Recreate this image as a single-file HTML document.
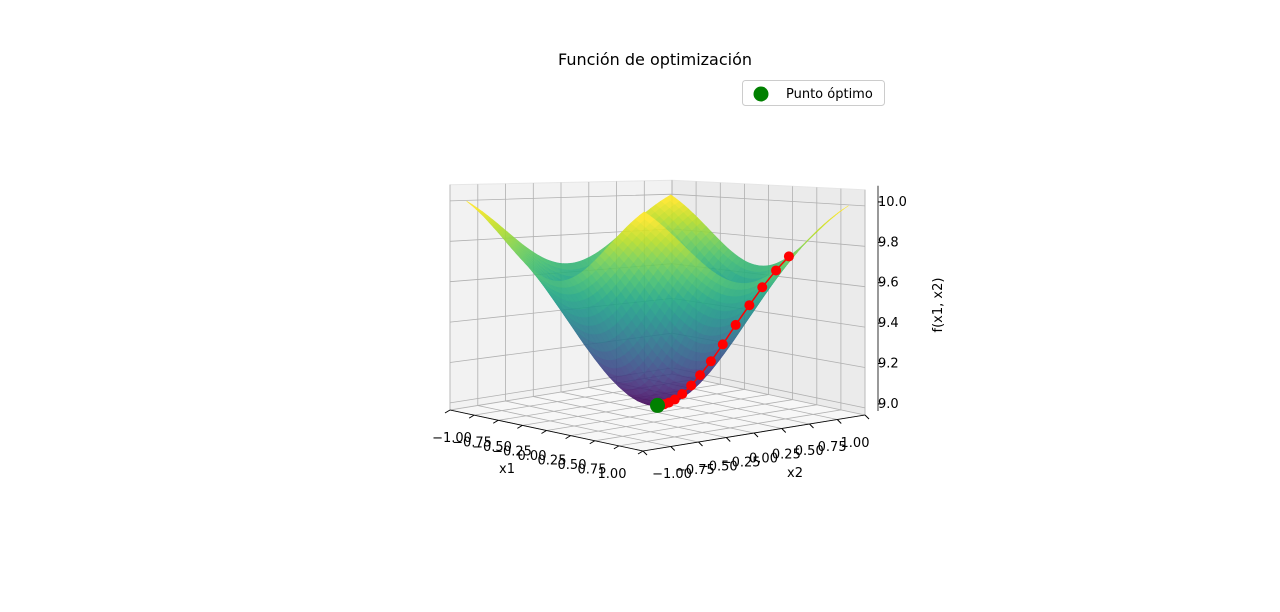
<!DOCTYPE html>
<html><head><meta charset="utf-8"><style>
html,body{margin:0;padding:0;background:#fff;}
svg{display:block;font-family:"DejaVu Sans","Liberation Sans",sans-serif;}
</style></head><body>
<svg id="chart" width="1280" height="612" viewBox="0 0 1280 612" xmlns="http://www.w3.org/2000/svg">
<rect width="1280" height="612" fill="#fff"/>
<text x="655" y="65" font-size="16" text-anchor="middle" fill="#000">Función de optimización</text>
<g id="panes"></g>
<g id="surf" opacity="0.9"></g>
<g id="path"></g>
<g id="axes"></g>
<g>
<rect x="742.5" y="80.5" width="142" height="25" rx="3" fill="#fff" stroke="#ccc"/>
<circle cx="761" cy="94" r="7.5" fill="#008000"/>
<text x="786" y="98" font-size="13" fill="#000">Punto óptimo</text>
</g>
</svg>
<script>
const x1Ticks=[-1,-0.75,-0.5,-0.25,0,0.25,0.5,0.75,1];
const x2Ticks=[-1,-0.75,-0.5,-0.25,0,0.25,0.5,0.75,1];
const x1Labels=["−1.00","−0.75","−0.50","−0.25","0.00","0.25","0.50","0.75","1.00"];
const zTicks=[9.0,9.2,9.4,9.6,9.8,10.0];
const zLabels=["9.0","9.2","9.4","9.6","9.8","10.0"];
const pathX1=[0.33,0.30,0.26,0.23,0.19,0.16,0.13,0.10,0.08,0.06,0.045,0.03,0.018,0.008];
const pathX2=[1.0,0.90,0.80,0.70,0.60,0.50,0.41,0.33,0.26,0.19,0.13,0.085,0.05,0.02];
const optimum=[0,0];
const ZMIN=8.965,ZMAX=10.08,SS=0.92;
const NS="http://www.w3.org/2000/svg";
function P(a,b,z){const k=1+0.07*(a-b);return [657.5+a*96.5+b*111,412.5+a*20.5-b*18-(z-ZMIN)*202*k];}
function PS(a,b,z){return P(a*SS,b*SS,z);}
function g(x){return (1-Math.exp(-x*x/0.7))/(1-Math.exp(-1/0.7));}
function f(a,b){const r=(1-Math.exp(-(a*a+b*b)/0.7))/(1-Math.exp(-2/0.7));return 9+0.25*(g(a)+g(b))+0.5*r;}
const V=["#440154","#482475","#414487","#355f8d","#2a788e","#21918c","#22a884","#44bf70","#7ad151","#bddf26","#fde725"];
function hx(h){return [1,3,5].map(i=>parseInt(h.substr(i,2),16));}
function vir(t){t=Math.max(0,Math.min(1,t))*10;const i=Math.min(9,Math.floor(t)),r=t-i;const a=hx(V[i]),b=hx(V[i+1]);return "rgb("+a.map((v,k)=>Math.round(v+(b[k]-v)*r)).join(",")+")";}
function el(tag,attrs,parent){const e=document.createElementNS(NS,tag);for(const k in attrs)e.setAttribute(k,attrs[k]);parent.appendChild(e);return e;}
function pts(arr){return arr.map(p=>p[0].toFixed(1)+","+p[1].toFixed(1)).join(" ");}
const panes=document.getElementById('panes');
let w1=el('polygon',{points:pts([P(-1,-1,ZMIN),P(-1,1,ZMIN),P(-1,1,ZMAX),P(-1,-1,ZMAX)]),fill:"#f2f2f2",stroke:"#e6e6e6"},panes);

let w2=el('polygon',{points:pts([P(-1,1,ZMIN),P(1,1,ZMIN),P(1,1,ZMAX),P(-1,1,ZMAX)]),fill:"#ebebeb",stroke:"#e6e6e6"},panes);

let fl=el('polygon',{points:pts([P(-1,-1,ZMIN),P(1,-1,ZMIN),P(1,1,ZMIN),P(-1,1,ZMIN)]),fill:"#f7f7f7",stroke:"#e6e6e6"},panes);

const gs={stroke:"#b0b0b0","stroke-width":0.8,fill:"none"};
x1Ticks.forEach(v=>{
  let l=el('polyline',Object.assign({points:pts([P(v,-1,ZMIN),P(v,1,ZMIN),P(v,1,ZMAX)])},gs),panes);
  
});
x2Ticks.forEach(v=>{
  let l=el('polyline',Object.assign({points:pts([P(1,v,ZMIN),P(-1,v,ZMIN),P(-1,v,ZMAX)])},gs),panes);
  
});
zTicks.forEach(v=>{
  let l=el('polyline',Object.assign({points:pts([P(-1,-1,v),P(-1,1,v),P(1,1,v)])},gs),panes);
  
});
const surf=document.getElementById('surf');const N=40;const quads=[];
for(let i=0;i<N;i++)for(let j=0;j<N;j++){
  const a0=-1+2*i/N,a1=-1+2*(i+1)/N,b0=-1+2*j/N,b1=-1+2*(j+1)/N;
  const zc=f((a0+a1)/2,(b0+b1)/2);
  quads.push({d:(a0+a1)/2-(b0+b1)/2,p:[PS(a0,b0,f(a0,b0)),PS(a1,b0,f(a1,b0)),PS(a1,b1,f(a1,b1)),PS(a0,b1,f(a0,b1))],c:vir((zc-9)/0.97)});
}
quads.sort((u,v)=>u.d-v.d);
quads.forEach(q=>{const e=el('polygon',{points:pts(q.p),fill:q.c,stroke:q.c,"stroke-width":0.6},surf);
});
const pg=document.getElementById('path');
const pp=pathX1.map((a,i)=>PS(a,pathX2[i],f(a,pathX2[i])));
let ln=el('polyline',{points:pts(pp),fill:"none",stroke:"#ff0000","stroke-width":1.5},pg);

pp.forEach(p=>{const c=el('circle',{cx:p[0],cy:p[1],r:5,fill:"#ff0000"},pg);
});
const op=PS(optimum[0],optimum[1],f(optimum[0],optimum[1]));
let oc=el('circle',{cx:op[0],cy:op[1],r:7.5,fill:"#008000"},pg);

const ax=document.getElementById('axes');
function txt(s,x,y,name,anchor,size){const t=el('text',{x:x,y:y,"font-size":size||13,"text-anchor":anchor||"middle",fill:"#000"},ax);t.textContent=s;
return t;}
let a1=P(-1,-1,ZMIN),a2=P(1,-1,ZMIN);
el('line',{x1:a1[0],y1:a1[1],x2:a2[0],y2:a2[1],stroke:"#000","stroke-width":0.8},ax);
let b1=P(1,-1,ZMIN),b2=P(1,1,ZMIN);
el('line',{x1:b1[0],y1:b1[1],x2:b2[0],y2:b2[1],stroke:"#000","stroke-width":0.8},ax);
let c1=P(1,1,ZMIN),c2=P(1,1,ZMAX);
el('line',{x1:c1[0]+13,y1:c1[1]-4,x2:c2[0]+13,y2:c2[1]-4,stroke:"#000","stroke-width":0.8},ax);
x1Ticks.forEach((v,i)=>{const p=P(v,-1,ZMIN);el('line',{x1:p[0],y1:p[1],x2:p[0]-5,y2:p[1]+3,stroke:"#000"},ax);
const t=(v+1)/2;txt(x1Labels[i],452+160*t,442+36*t,'x1-tick-label');});
x2Ticks.forEach((v,i)=>{const p=P(1,v,ZMIN);el('line',{x1:p[0],y1:p[1],x2:p[0]+4,y2:p[1]+4,stroke:"#000"},ax);
const t=(v+1)/2;txt(x1Labels[i],672+183*t,478-31*t,'x2-tick-label');});
zTicks.forEach((v,i)=>{const p=P(1,1,v);el('line',{x1:p[0]+13,y1:p[1]-4,x2:p[0]+18,y2:p[1]-4,stroke:"#000"},ax);
txt(zLabels[i],878,p[1],'z-tick-label','start');});
txt("x1",507,473,'x1-axis-title');
txt("x2",795,477,'x2-axis-title');
const zt=txt("f(x1, x2)",942,305,'z-axis-title');zt.setAttribute('transform','rotate(-90 942 305)');
</script>
</body></html>
